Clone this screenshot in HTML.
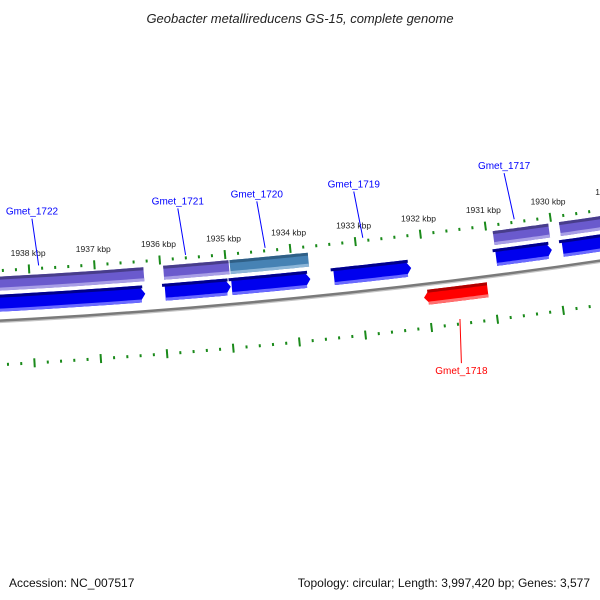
<!DOCTYPE html>
<html><head><meta charset="utf-8"><style>
html,body{margin:0;padding:0;background:#fff;}
svg{display:block;font-family:"Liberation Sans","DejaVu Sans",sans-serif;}
</style></head><body>
<svg id="chart" width="600" height="600" viewBox="0 0 600 600">
<text x="300" y="23" text-anchor="middle" font-size="13" font-style="italic" fill="#222">Geobacter metallireducens GS-15, complete genome</text>
<text x="9" y="587" font-size="12" fill="#111">Accession: NC_007517</text>
<text x="590" y="587" text-anchor="end" font-size="12" fill="#111">Topology: circular; Length: 3,997,420 bp; Genes: 3,577</text>
<g id="map"></g>
</svg>
<script>
// data
const geneNames = ["Gmet_1722","Gmet_1721","Gmet_1720","Gmet_1719","Gmet_1718","Gmet_1717","Gmet_1716"];
const geneStarts = [1941000,1935955,1934940,1933380,1932060,1930900,1929880];
const geneEnds   = [1936258,1934955,1933740,1932200,1931090,1930045,1927000];
const geneStrands = [1,1,1,1,-1,1,1];
const geneTypes = ["gene","gene","steel","none","gene","gene","gene"];
const labelNames = ["Gmet_1722","Gmet_1721","Gmet_1720","Gmet_1719","Gmet_1717","Gmet_1718"];
const labelBps = [1937850,1935600,1934380,1932880,1930550,1931560];
const labelStrands = [1,1,1,1,1,-1];
const tickStart = 1926000, tickEnd = 1942000, tickStep = 200, majorStep = 1000;

const cx=-349, cy=-6199, R0=6529;
const refBp=1934000, k=0.066/R0;
const phi0=Math.atan2(297-cy,295-cx);
function pt(bp,r){const a=phi0+(bp-refBp)*k;return [cx+r*Math.cos(a),cy+r*Math.sin(a)];}
const NS="http://www.w3.org/2000/svg";
const g=document.getElementById('map');
function mk(tag,attrs){const e=document.createElementNS(NS,tag);for(const a in attrs)e.setAttribute(a,attrs[a]);g.appendChild(e);return e;}
function arcPts(b1,b2,r){const n=20,p=[];for(let i=0;i<=n;i++)p.push(pt(b1+(b2-b1)*i/n,r));return p;}
function band(b1,b2,r1,r2,arrow){
  // b1>b2 (left to right). arrow: 1 tip at right(b2), -1 tip at left(b1), 0 none
  const head=6/0.066;let p=[];
  let s=b1,e=b2;
  if(arrow===1)e=b2+head; if(arrow===-1)s=b1-head;
  p=p.concat(arcPts(s,e,r1));
  if(arrow===1)p.push(pt(b2,(r1+r2)/2));
  p=p.concat(arcPts(e,s,r2));
  if(arrow===-1)p.push(pt(b1,(r1+r2)/2));
  return 'M'+p.map(q=>q[0].toFixed(1)+','+q[1].toFixed(1)).join('L')+'Z';
}
// backbone
let bb=arcPts(1942000,1926000,R0+1.5);
let e=mk('path',{d:'M'+bb.map(q=>q.join(',')).join('L'),stroke:'#c4c4c4',"stroke-width":2,fill:'none'});


bb=arcPts(1942000,1926000,R0);
e=mk('path',{d:'M'+bb.map(q=>q.join(',')).join('L'),stroke:'#7a7a7a',"stroke-width":2.5,fill:'none'});


// ticks
for(let b=tickStart;b<=tickEnd;b+=tickStep){
  const maj=b%majorStep===0;
  [[R0-50,1],[R0+44,-1]].forEach(([r,side])=>{
    const h=maj?4.5:1.5;
    const a=pt(b,r-h),c=pt(b,r+h);
    const t=mk('line',{x1:a[0],y1:a[1],x2:c[0],y2:c[1],stroke:'#1a8a1a',"stroke-width":2});
    
    
  });
  if(maj){
    const p=pt(b,R0-66);
    const t=mk('text',{x:p[0],y:p[1]+3,"text-anchor":"middle","font-size":"8.5",fill:'#222'});
    t.textContent=(b/1000)+' kbp';
    
    
  }
}
// genes
for(let i=0;i<geneNames.length;i++){
  const s=geneStarts[i],en=geneEnds[i],st=geneStrands[i];
  if(st===1){
    if(geneTypes[i]!=="none"){
      const col=geneTypes[i]==="steel"?["#4682b4","#2f5f86","#8db6d8"]:["#6a5acd","#483d8b","#a89ee6"];
      let p=mk('path',{d:band(s,en,R0-44,R0-30,0),fill:col[0]});
      
      
      p=mk('path',{d:band(s,en,R0-44,R0-41,0),fill:col[1]});
      
      
      p=mk('path',{d:band(s,en,R0-33,R0-30,0),fill:col[2]});
      
      
    }
    let p=mk('path',{d:band(s,en,R0-26,R0-9,1),fill:'#0000ee'});
    
    
    p=mk('path',{d:band(s+40,en+40,R0-26,R0-23,0),fill:'#00008b'});
    
    
    p=mk('path',{d:band(s,en+60,R0-12,R0-9,0),fill:'#6a6aff'});
    
    
  } else {
    let p=mk('path',{d:band(s,en,R0+6,R0+21,-1),fill:'#ff0000'});
    
    
    p=mk('path',{d:band(s-60,en,R0+6,R0+9,0),fill:'#b00000'});
    
    
    p=mk('path',{d:band(s-60,en,R0+18,R0+21,0),fill:'#ff7070'});
    
    
  }
}
// labels
for(let i=0;i<labelNames.length;i++){
  const up=labelStrands[i]===1, col=up?'#0000ff':'#ff0000';
  const a=up?pt(labelBps[i],R0-53):pt(labelBps[i],R0+39);
  const c=up?pt(labelBps[i]+60,R0-100):pt(labelBps[i]+60,R0+83);
  const l=mk('line',{x1:a[0],y1:a[1],x2:c[0],y2:c[1],stroke:col,"stroke-width":1});
  
  
  const t=mk('text',{x:c[0],y:up?c[1]-4:c[1]+11,"text-anchor":"middle","font-size":"10",fill:col});
  t.textContent=labelNames[i];
  
  
}
</script>
</body></html>
